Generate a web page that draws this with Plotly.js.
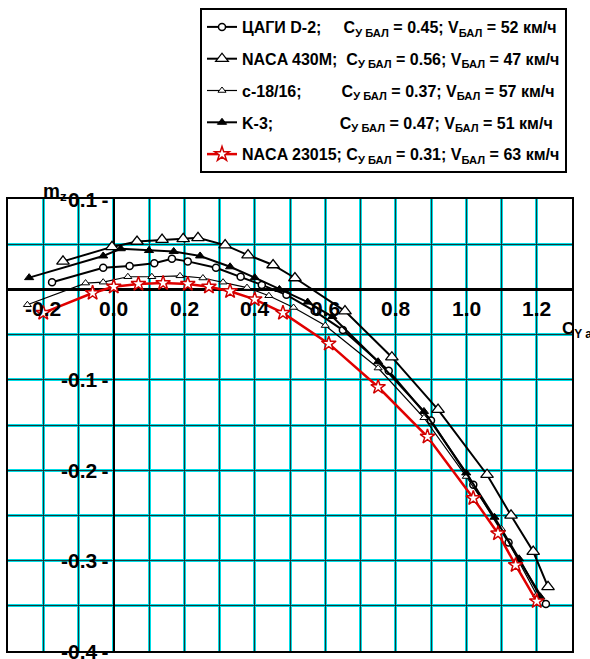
<!DOCTYPE html>
<html>
<head>
<meta charset="utf-8">
<script src="https://cdn.plot.ly/plotly-3.0.1.min.js"></script>
<style>html,body{margin:0;padding:0;background:#fff;}#chart{width:590px;height:659px;}</style>
</head>
<body>
<div id="chart"></div>
<script>
// ---- data ----
const names = ["ЦАГИ D-2;", "NACA 430M;", "c-18/16;", "K-3;", "NACA 23015;"];
const namePad = [5, 2, 9, 15, 1];
const cBal = ["0.45", "0.56", "0.37", "0.47", "0.31"];
const vBal = ["52", "47", "57", "51", "63"];

const x_tsagi = [-0.175, -0.03, 0.045, 0.115, 0.165, 0.21, 0.29, 0.36, 0.42, 0.49, 0.57, 0.65, 0.78, 0.9, 1.02, 1.12, 1.226];
const y_tsagi = [0.008, 0.024, 0.026, 0.029, 0.034, 0.031, 0.024, 0.014, 0.005, -0.006, -0.024, -0.045, -0.09, -0.145, -0.216, -0.28, -0.348];

const x_naca430 = [-0.144, -0.005, 0.066, 0.137, 0.197, 0.239, 0.316, 0.381, 0.452, 0.514, 0.656, 0.789, 0.92, 1.059, 1.127, 1.19, 1.232];
const y_naca430 = [0.031, 0.047, 0.053, 0.055, 0.056, 0.057, 0.049, 0.038, 0.027, 0.0126, -0.024, -0.075, -0.133, -0.205, -0.25, -0.29, -0.329];

const x_c1816 = [-0.245, -0.08, -0.03, 0.04, 0.108, 0.188, 0.253, 0.31, 0.378, 0.44, 0.51, 0.6, 0.75, 0.88, 1.0, 1.1, 1.2];
const y_c1816 = [-0.017, 0.007, 0.008, 0.014, 0.014, 0.015, 0.0126, 0.008, 0.002, -0.007, -0.02, -0.04, -0.087, -0.142, -0.207, -0.265, -0.338];

const x_k3 = [-0.24, -0.03, 0.02, 0.1, 0.17, 0.245, 0.33, 0.40, 0.47, 0.55, 0.62, 0.75, 0.88, 1.0, 1.08, 1.15, 1.21];
const y_k3 = [0.013, 0.037, 0.045, 0.043, 0.042, 0.037, 0.025, 0.013, 0.0, -0.014, -0.03, -0.08, -0.135, -0.203, -0.252, -0.298, -0.34];

const x_naca23015 = [-0.2, -0.06, 0.0, 0.07, 0.14, 0.21, 0.27, 0.33, 0.40, 0.48, 0.61, 0.75, 0.89, 1.02, 1.09, 1.14, 1.2];
const y_naca23015 = [-0.026, -0.004, 0.003, 0.006, 0.007, 0.006, 0.003, -0.002, -0.011, -0.026, -0.06, -0.108, -0.163, -0.231, -0.27, -0.305, -0.345];

const xTickVals = [-0.2, 0.0, 0.2, 0.4, 0.6, 0.8, 1.0, 1.2];
const xTickText = ["-0.2", "0.0", "0.2", "0.4", "0.6", "0.8", "1.0", "1.2"];
const yTickVals = [-0.4, -0.3, -0.2, -0.1, 0.1];
const yTickText = ["-0.4", "-0.3", "-0.2", "-0.1", "0.1"];

// ---- build ----
const NB = "\u00A0";
function label(i) {
  return names[i] + NB.repeat(namePad[i]) + "C<sub>У БАЛ</sub> = " + cBal[i] +
         "; V<sub>БАЛ</sub> = " + vBal[i] + " км/ч";
}
const FONT = "'Liberation Sans Narrow', 'Arial Narrow', 'Liberation Sans', Arial, sans-serif";

const traces = [
  {x: x_tsagi, y: y_tsagi, name: label(0), legendgroup: "g0", mode: "lines+markers",
   line: {color: "#000", width: 2},
   marker: {symbol: "circle", size: 7, color: "#fff", line: {color: "#000", width: 1.5}}},
  {x: x_naca430, y: y_naca430, name: label(1), legendgroup: "g1", mode: "lines+markers",
   line: {color: "#000", width: 2},
   marker: {symbol: "triangle-up", size: 11, color: "#fff", line: {color: "#000", width: 1.3}}},
  {x: x_c1816, y: y_c1816, name: label(2), legendgroup: "g2", mode: "lines+markers",
   line: {color: "#000", width: 1.2},
   marker: {symbol: "triangle-up", size: 7, color: "#fff", line: {color: "#000", width: 1}}},
  {x: x_k3, y: y_k3, name: label(3), legendgroup: "g3", mode: "lines+markers",
   line: {color: "#000", width: 2},
   marker: {symbol: "triangle-up", size: 8, color: "#000", line: {color: "#000", width: 1}}},
  {x: x_naca23015, y: y_naca23015, name: label(4), legendgroup: "g4", mode: "lines+markers",
   line: {color: "#e00000", width: 2.5},
   marker: {symbol: "star", size: 11, color: "#fff", line: {color: "#d00000", width: 1.5}}},
  {x: [0], y: [0], xaxis: "x2", yaxis: "y2", mode: "markers", marker: {opacity: 0},
   showlegend: false, hoverinfo: "skip"}
];

const xr = [-0.3, 1.3], yr = [-0.4, 0.1];
const tickFont = {family: FONT, size: 21, weight: "bold", color: "#000"};
const annotations = [];
xTickVals.forEach((v, i) => annotations.push({
  xref: "x", yref: "y", x: v, y: 0, yanchor: "top", xanchor: "center", yshift: -6,
  showarrow: false, text: xTickText[i], font: tickFont}));
yTickVals.forEach((v, i) => annotations.push({
  xref: "x", yref: "y", x: 0, y: v, xanchor: "right", yanchor: "middle", xshift: -4,
  showarrow: false, text: yTickText[i] + "\u2009-", font: tickFont}));
annotations.push(
  {xref: "paper", yref: "paper", x: 0.058, y: 1.015, xanchor: "left", yanchor: "middle", showarrow: false,
   text: "m<sub>z</sub>", font: {family: FONT, size: 19, weight: "bold", color: "#000"}},
  {xref: "paper", yref: "paper", x: 0.978, y: 0.71, xanchor: "left", yanchor: "middle", showarrow: false,
   text: "C<sub>Y a</sub>", font: {family: FONT, size: 17, weight: "bold", color: "#000"}}
);

const layout = {
  width: 590, height: 659,
  margin: {l: 8, r: 18, t: 199, b: 8, autoexpand: false},
  paper_bgcolor: "#fff", plot_bgcolor: "#fff",
  showlegend: true,
  font: {family: FONT, color: "#000"},
  xaxis: {range: xr, dtick: 0.1, tick0: 0, showticklabels: false, ticks: "",
          showgrid: true, gridcolor: "#00dde6", gridwidth: 3, zeroline: false,
          showline: true, mirror: true, linecolor: "#000", linewidth: 2},
  yaxis: {range: yr, dtick: 0.05, tick0: 0, showticklabels: false, ticks: "",
          showgrid: true, gridcolor: "#00dde6", gridwidth: 3, zeroline: false,
          showline: true, mirror: true, linecolor: "#000", linewidth: 2},
  xaxis2: {range: xr, overlaying: "x", anchor: "y2", dtick: 0.1, tick0: 0, showticklabels: false, ticks: "",
           showgrid: true, gridcolor: "#1b3b3b", gridwidth: 1, zeroline: true, zerolinecolor: "#000", zerolinewidth: 2.5,
           showline: false},
  yaxis2: {range: yr, overlaying: "y", anchor: "x2", dtick: 0.05, tick0: 0, showticklabels: false, ticks: "",
           showgrid: true, gridcolor: "#1b3b3b", gridwidth: 1, zeroline: true, zerolinecolor: "#000", zerolinewidth: 2.5,
           showline: false},
  legend: {xref: "paper", yref: "paper", x: (200 - 8) / 564, y: (651 - 8) / 452, xanchor: "left", yanchor: "top",
           bgcolor: "#fff", bordercolor: "#000", borderwidth: 2, traceorder: "grouped", tracegroupgap: 8,
           font: {family: FONT, size: 16, weight: "bold", color: "#000"}, itemwidth: 30},
  annotations: annotations
};

Plotly.newPlot("chart", traces, layout, {displayModeBar: false, staticPlot: true});
</script>
</body>
</html>
